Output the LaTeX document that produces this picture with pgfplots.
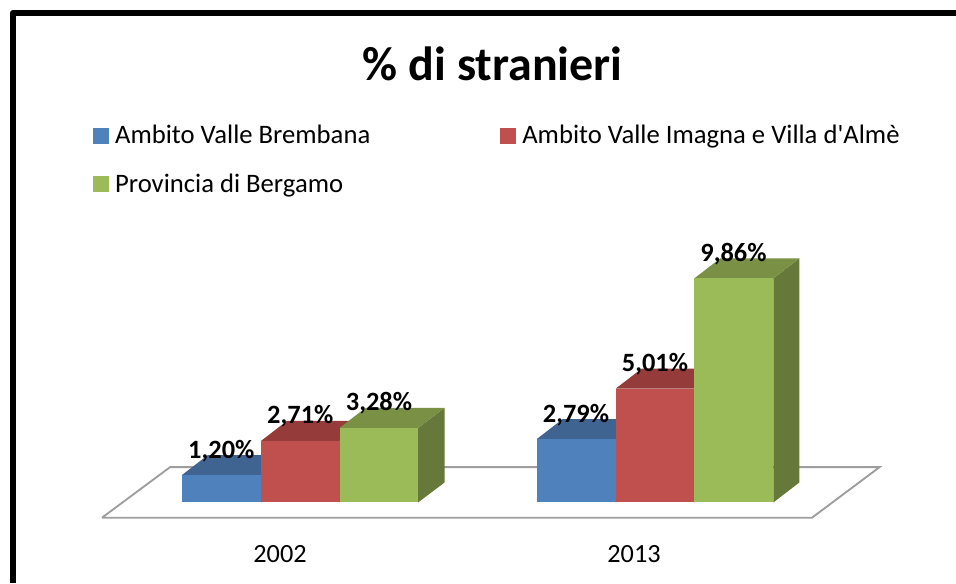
\documentclass[border=0pt]{standalone}
\usepackage{fontspec}
\setmainfont{Carlito}
\newfontfamily\plainfont{Carlito}
\usepackage{pgfplots}
\pgfplotsset{compat=1.18}
\definecolor{cBlue}{HTML}{4F81BD}
\definecolor{cRed}{HTML}{C0504D}
\definecolor{cGreen}{HTML}{9BBB59}
\definecolor{tBlue}{HTML}{3F6491}
\definecolor{tRed}{HTML}{953B39}
\definecolor{tGreen}{HTML}{7A9145}
\definecolor{sBlue}{HTML}{375A82}
\definecolor{sRed}{HTML}{853533}
\definecolor{sGreen}{HTML}{66793A}
\pgfplotsset{face/.style={forget plot, fill=#1, draw=none, mark=none}}
\begin{document}
\begin{tikzpicture}
\begin{axis}[
  scale only axis, width=717pt, height=437.25pt,
  xmin=0, xmax=956, ymin=-3.542, ymax=22.108,
  axis line style={draw=none}, tick style={draw=none},
  ytick=\empty,
  xtick={280,634}, xticklabels={2002,2013},
  xticklabel style={font=\fontsize{19.7pt}{23pt}\selectfont, yshift=31.6pt},
  title={\fontsize{36pt}{41pt}\selectfont\bfseries \% di stranieri},
  title style={at={(axis description cs:0.5155,0.876)}, anchor=center, inner sep=0pt},
  legend columns=2,
  legend cell align=left,
  legend style={draw=none, fill=none, at={(axis description cs:0.0931,0.795)}, anchor=north west,
    font=\fontsize{20pt}{23.5pt}\selectfont, row sep=17.2pt,
    /tikz/every even column/.append style={column sep=95.6pt}},
  legend image code/.code={\fill[#1] (0pt,-5.6pt) rectangle (11.25pt,5.6pt); \path (14pt,0pt);},
]
\addlegendimage{cBlue}
\addlegendentry{Ambito Valle Brembana}
\addlegendimage{cRed}
\addlegendentry{\plainfont Ambito Valle Imagna e Villa d'Almè}
\addlegendimage{cGreen}
\addlegendentry{Provincia di Bergamo}

% frame
\addplot[forget plot, black, line width=4.1pt, line join=round, mark=none] coordinates {(12.8,-3.542)(12.8,21.545)(956,21.545)};
% floor
\addplot[forget plot, fill=white, draw=black!38, line width=1.4pt, mark=none] coordinates {(102,-0.669)(812,-0.669)(879.5,1.554)(170,1.554)(102,-0.669)};

% 2002 blue
\addplot[face=sBlue] coordinates {(261,0)(287,0.88)(287,2.08)(261,1.20)};
\addplot[face=tBlue] coordinates {(181.7,1.20)(261,1.20)(287,2.08)(207.7,2.08)};
\addplot[face=cBlue] coordinates {(181.7,0)(261,0)(261,1.20)(181.7,1.20)};
% 2002 red
\addplot[face=sRed] coordinates {(339.5,0)(365.5,0.88)(365.5,3.59)(339.5,2.71)};
\addplot[face=tRed] coordinates {(261,2.71)(339.5,2.71)(365.5,3.59)(287,3.59)};
\addplot[face=cRed] coordinates {(261,0)(339.5,0)(339.5,2.71)(261,2.71)};
% 2002 green
\addplot[face=sGreen] coordinates {(418,0)(444.5,0.88)(444.5,4.16)(418,3.28)};
\addplot[face=tGreen] coordinates {(339.5,3.28)(418,3.28)(444.5,4.16)(365.5,4.16)};
\addplot[face=cGreen] coordinates {(339.5,0)(418,0)(418,3.28)(339.5,3.28)};
% 2013 blue
\addplot[face=sBlue] coordinates {(615.7,0)(641.7,0.88)(641.7,3.67)(615.7,2.79)};
\addplot[face=tBlue] coordinates {(536.7,2.79)(615.7,2.79)(641.7,3.67)(562.7,3.67)};
\addplot[face=cBlue] coordinates {(536.7,0)(615.7,0)(615.7,2.79)(536.7,2.79)};
% 2013 red
\addplot[face=sRed] coordinates {(694.3,0)(720.3,0.88)(720.3,5.89)(694.3,5.01)};
\addplot[face=tRed] coordinates {(615.7,5.01)(694.3,5.01)(720.3,5.89)(641.7,5.89)};
\addplot[face=cRed] coordinates {(615.7,0)(694.3,0)(694.3,5.01)(615.7,5.01)};
% 2013 green
\addplot[face=sGreen] coordinates {(773.3,0)(799.3,0.88)(799.3,10.74)(773.3,9.86)};
\addplot[face=tGreen] coordinates {(694.3,9.86)(773.3,9.86)(799.3,10.74)(720.3,10.74)};
\addplot[face=cGreen] coordinates {(694.3,0)(773.3,0)(773.3,9.86)(694.3,9.86)};

% value labels (placed at value + depth of the bar)
\addplot[forget plot, only marks, mark=none, point meta=explicit symbolic,
  nodes near coords={\pgfplotspointmeta\%},
  nodes near coords style={anchor=base, inner sep=0pt, yshift=-2.2pt, text=black,
    font=\fontsize{19.8pt}{23pt}\selectfont\bfseries}]
  table[meta=lab] {
x y lab
221.3 2.08 1,20
300.3 3.59 2,71
379 4.16 3,28
576 3.67 2,79
655 5.89 5,01
733.5 10.74 9,86
};
\end{axis}
\end{tikzpicture}
\end{document}
